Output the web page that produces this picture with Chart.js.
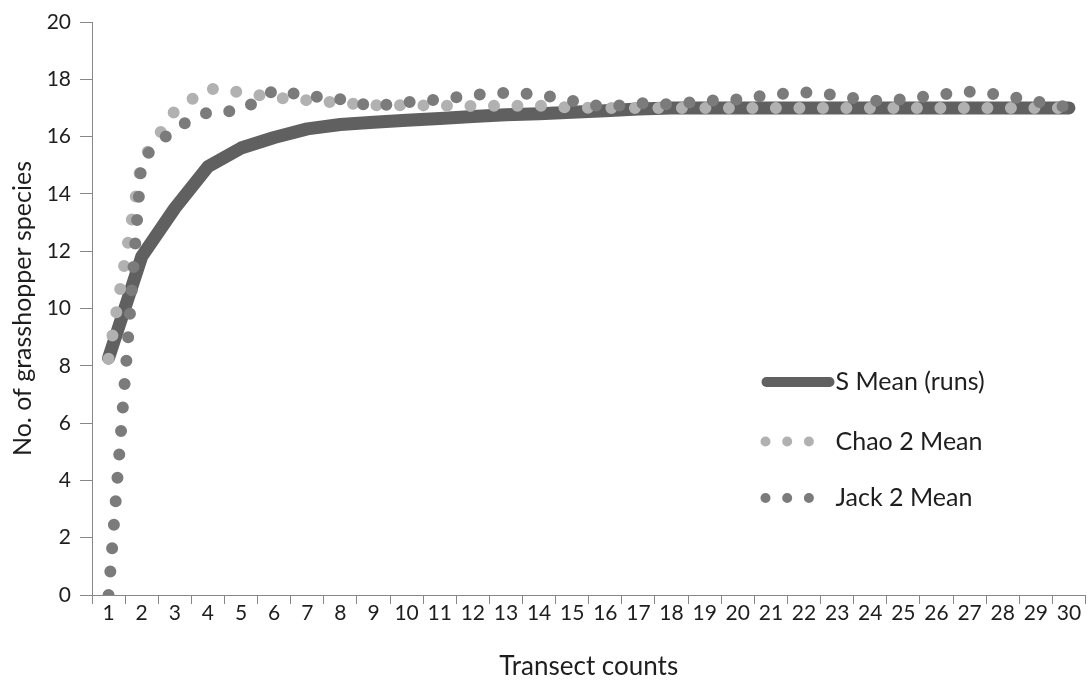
<!DOCTYPE html>
<html>
<head>
<meta charset="utf-8">
<title>Species accumulation</title>
<script src="https://cdn.jsdelivr.net/npm/chart.js@4.4.1/dist/chart.umd.min.js"></script>
<style>
  html, body { margin: 0; padding: 0; background: #ffffff; }
  #wrap { width: 1089px; height: 685px; }
</style>
</head>
<body>
<div id="wrap"><canvas id="chart" width="1089" height="685"></canvas></div>
<script>
// Number of transects pooled (x categories)
const transects = ['1','2','3','4','5','6','7','8','9','10','11','12','13','14','15',
                   '16','17','18','19','20','21','22','23','24','25','26','27','28','29','30'];

// Observed species richness, mean over randomised runs
const sMean = [8.27, 11.81, 13.5, 14.95, 15.6, 15.97, 16.27, 16.42, 16.5, 16.57,
               16.63, 16.7, 16.76, 16.8, 16.85, 16.9, 16.96, 17.0, 17.0, 17.0,
               17.0, 17.0, 17.0, 17.0, 17.0, 17.0, 17.0, 17.0, 17.0, 17.0];

// Chao 2 estimator, mean
const chao2Mean = [8.25, 15.15, 16.9, 17.68, 17.55, 17.36, 17.27, 17.18, 17.09, 17.1,
                   17.08, 17.07, 17.08, 17.08, 17.01, 17.0, 17.0, 17.0, 17.0, 17.0,
                   17.0, 17.0, 17.0, 17.0, 17.0, 17.0, 17.0, 17.0, 17.0, 17.0];

// Second-order jackknife estimator, mean
const jack2Mean = [0, 15.2, 16.3, 16.85, 16.9, 17.62, 17.43, 17.3, 17.05, 17.2,
                   17.3, 17.45, 17.53, 17.47, 17.25, 17.02, 17.17, 17.12, 17.25, 17.3,
                   17.47, 17.55, 17.45, 17.24, 17.3, 17.45, 17.57, 17.45, 17.23, 17.02];

const seriesNames = ['S Mean (runs)', 'Chao 2 Mean', 'Jack 2 Mean'];

const yMin = 0, yMax = 20, yStep = 2;

const FONT = 'Lato';
const TEXT = '#1e1e1e';
const AXIS = '#878787';

// Legend drawn inside the plot area, to the right, with line / dot samples
const inlineLegend = {
  id: 'inlineLegend',
  afterDatasetsDraw(chart) {
    const { ctx, chartArea } = chart;
    const sampleX = chartArea.right - 320;
    const textX = chartArea.right - 250;
    const rowY = [chartArea.top + 360, chartArea.top + 419.5, chartArea.top + 476];
    chart.data.datasets.forEach((ds, i) => {
      const y = rowY[i];
      ctx.save();
      ctx.strokeStyle = ds.borderColor;
      ctx.lineCap = 'round';
      ctx.lineWidth = 10;
      ctx.beginPath();
      if (ds.borderDash && ds.borderDash.length) {
        ctx.setLineDash([0, 21.7]);
        ctx.moveTo(sampleX, y);
        ctx.lineTo(sampleX + 43.5, y);
      } else {
        ctx.moveTo(sampleX + 1, y);
        ctx.lineTo(sampleX + 64, y);
      }
      ctx.stroke();
      ctx.setLineDash([]);
      ctx.fillStyle = TEXT;
      ctx.font = '25px ' + FONT;
      ctx.textAlign = 'left';
      ctx.textBaseline = 'middle';
      ctx.fillText(ds.label, textX, y);
      ctx.restore();
    });
  }
};

new Chart(document.getElementById('chart'), {
  type: 'line',
  data: {
    labels: transects,
    datasets: [
      {
        label: seriesNames[0],
        data: sMean,
        borderColor: '#606060',
        borderWidth: 13,
        borderCapStyle: 'round',
        borderJoinStyle: 'round',
        pointRadius: 0,
        tension: 0,
        order: 3
      },
      {
        label: seriesNames[1],
        data: chao2Mean,
        borderColor: '#b1b1b1',
        borderWidth: 12,
        borderDash: [0, 23.5],
        borderCapStyle: 'round',
        pointRadius: 0,
        tension: 0,
        order: 2
      },
      {
        label: seriesNames[2],
        data: jack2Mean,
        borderColor: '#7b7b7b',
        borderWidth: 12,
        borderDash: [0, 23.5],
        borderCapStyle: 'round',
        pointRadius: 0,
        tension: 0,
        order: 1,
        clip: { left: 8, top: 8, right: 8, bottom: 0 }
      }
    ]
  },
  options: {
    responsive: false,
    animation: false,
    devicePixelRatio: 1,
    layout: { padding: { top: 22, right: 3.5, left: 0, bottom: 0 } },
    plugins: {
      legend: { display: false },
      tooltip: { enabled: false }
    },
    scales: {
      x: {
        type: 'category',
        offset: true,
        grid: {
          offset: true,
          drawOnChartArea: false,
          drawTicks: true,
          tickLength: 9,
          lineWidth: 1,
          color: (c) => (c.index === transects.length ? 'rgba(0,0,0,0)' : AXIS)
        },
        border: { display: true, color: AXIS, width: 1 },
        ticks: {
          autoSkip: false,
          maxRotation: 0,
          padding: -1,
          color: TEXT,
          font: { family: FONT, size: 21, lineHeight: 1 }
        },
        title: {
          display: true,
          text: 'Transect counts',
          color: TEXT,
          font: { family: FONT, size: 26, lineHeight: 1.2 },
          padding: { top: 0, bottom: 3 }
        },
        afterFit: (s) => { s.height = 90; }
      },
      y: {
        min: yMin,
        max: yMax,
        grid: {
          drawOnChartArea: false,
          drawTicks: true,
          tickLength: 12,
          color: AXIS
        },
        border: { display: true, color: AXIS, width: 1 },
        ticks: {
          stepSize: yStep,
          padding: 9,
          color: TEXT,
          font: { family: FONT, size: 21 }
        },
        title: {
          display: true,
          text: 'No. of grasshopper species',
          color: TEXT,
          font: { family: FONT, size: 25, lineHeight: 1.2 },
          padding: { top: 8, bottom: 0 }
        },
        afterFit: (s) => { s.width = 92; }
      }
    }
  },
  plugins: [inlineLegend]
});
</script>
</body>
</html>
